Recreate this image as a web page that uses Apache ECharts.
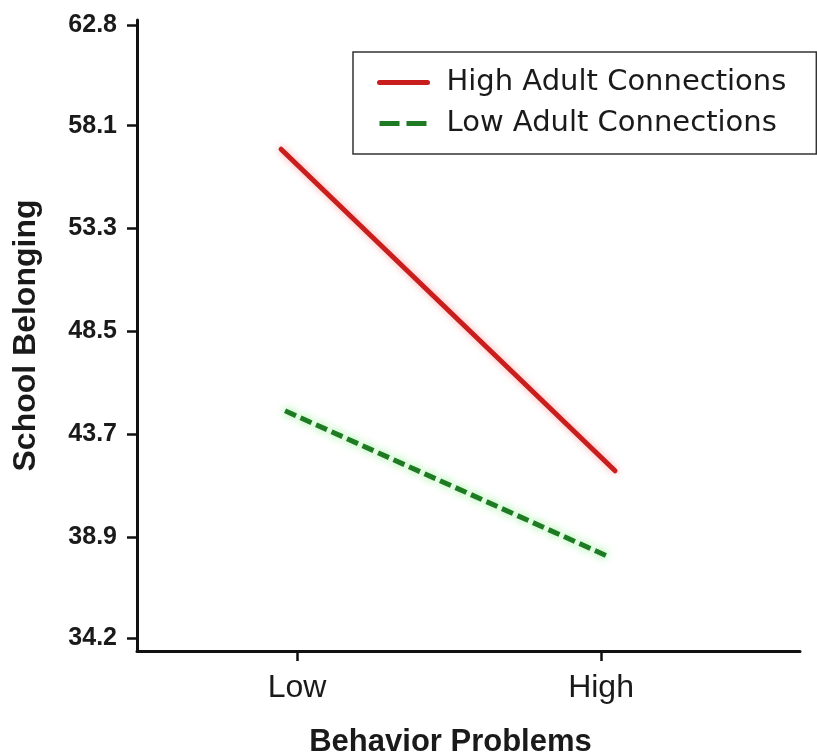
<!DOCTYPE html>
<html>
<head>
<meta charset="utf-8">
<script src="https://cdn.jsdelivr.net/npm/echarts@6/dist/echarts.min.js"></script>
<style>html,body{margin:0;padding:0;background:#fff;}#c{width:817px;height:755px;}</style>
</head>
<body>
<div id="c"></div>
<script>
// ---- data ----
var categories = ['Low', 'High'];
var categoryPos = [-1, 1];            // x position of each behaviour-problem level
var yTickLabels = ['34.2', '38.9', '43.7', '48.5', '53.3', '58.1', '62.8'];
var seriesNames = ['High Adult Connections', 'Low Adult Connections'];
var highConnX = [-1.105, 1.092];
var highConnY = [57.0, 42.0];
var lowConnX = [-1.079, 1.046];
var lowConnY = [44.8, 38.0];

function pairs(xs, ys) { return xs.map(function (x, i) { return [x, ys[i]]; }); }
var yTickValues = yTickLabels.map(Number);

var chart = echarts.init(document.getElementById('c'), null, { renderer: 'canvas' });
var axisColor = '#111';
var textColor = '#1a1a1a';

chart.setOption({
  backgroundColor: '#fff',
  animation: false,
  grid: { left: 137, right: 17, top: 20, bottom: 104, containLabel: false, outerBoundsMode: 'none' },
  legend: {
    orient: 'vertical',
    left: 353, top: 52,
    padding: [16, 30, 16, 24],
    itemWidth: 48, itemHeight: 28, itemGap: 12,
    borderColor: '#333', borderWidth: 1.5,
    itemStyle: { opacity: 0 },
    lineStyle: { width: 5 },
    textStyle: { fontFamily: 'DejaVu Sans', fontSize: 29, color: textColor, lineHeight: 28, padding: [0, 0, 0, 14] },
    data: [
      { name: seriesNames[0] },
      { name: seriesNames[1], lineStyle: { type: [20, 7], width: 5 } }
    ]
  },
  xAxis: {
    type: 'value',
    min: -2.053, max: 2.309,
    splitLine: { show: false },
    axisLine: { onZero: false, lineStyle: { color: axisColor, width: 3 } },
    axisTick: { show: true, length: 10, lineStyle: { color: axisColor, width: 2.5 }, customValues: categoryPos },
    axisLabel: {
      customValues: categoryPos, margin: 21,
      fontFamily: 'Liberation Sans', fontSize: 32, color: textColor,
      formatter: function (v) { var i = categoryPos.indexOf(v); return i >= 0 ? categories[i] : ''; }
    },
    name: 'Behavior Problems', nameLocation: 'middle', nameGap: 76,
    nameTextStyle: { fontFamily: 'Liberation Sans', fontWeight: 'bold', fontSize: 31, color: textColor, padding: [0, 36, 0, 0] }
  },
  yAxis: {
    type: 'value',
    min: 33.59, max: 63.03,
    splitLine: { show: false },
    axisLine: { onZero: false, lineStyle: { color: axisColor, width: 3 } },
    axisTick: { show: true, length: 10, lineStyle: { color: axisColor, width: 2.5 }, customValues: yTickValues },
    axisLabel: {
      customValues: yTickValues, margin: 20,
      fontFamily: 'Liberation Sans', fontWeight: 'bold', fontSize: 25, color: textColor,
      formatter: function (v) { var i = yTickValues.indexOf(v); return i >= 0 ? yTickLabels[i] : ''; }
    },
    name: 'School Belonging', nameLocation: 'middle', nameGap: 95,
    nameTextStyle: { fontFamily: 'Liberation Sans', fontWeight: 'bold', fontSize: 32, color: textColor }
  },
  series: [
    {
      name: seriesNames[0], type: 'line', symbol: 'none', showSymbol: false, z: 3,
      data: pairs(highConnX, highConnY),
      color: '#c81e1e',
      lineStyle: { color: '#c81e1e', width: 5, cap: 'round', shadowColor: 'rgba(255,110,110,0.6)', shadowBlur: 7 }
    },
    {
      name: seriesNames[1], type: 'line', symbol: 'none', showSymbol: false, z: 3,
      data: pairs(lowConnX, lowConnY),
      color: '#1f7a24',
      lineStyle: { color: '#1f7a24', width: 5, type: [12, 5], shadowColor: 'rgba(100,230,100,0.8)', shadowBlur: 8 }
    }
  ]
});
</script>
</body>
</html>
